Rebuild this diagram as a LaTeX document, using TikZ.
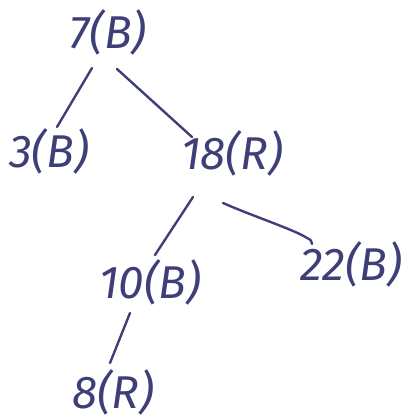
\documentclass[tikz,border=0pt]{standalone}
\usepackage{fontspec}
\setmainfont{Fira Sans}
\usetikzlibrary{calc}
\definecolor{ink}{HTML}{3E3F78}
\begin{document}
\begin{tikzpicture}[x=1pt,y=-1pt,
  key/.style={inner sep=0pt, text=ink, font=\fontsize{46}{48}\selectfont\itshape},
  edge/.style={draw=ink, line width=2.4pt, line cap=round, line join=round}]
\useasboundingbox (0,0) rectangle (406,420);
% tree nodes: key(colour)
\node[key] (n7)  at (108,32)  {7(B)};
\node[key] (n3)  at (49,151)  {3(B)};
\node[key] (n18) at (232,153) {18(R)};
\node[key] (n10) at (150,282) {10(B)};
\node[key] (n22) at (351,264) {22(B)};
\node[key] (n8)  at (113,392) {8(R)};
% links, each starting and ending a little off its two keys
\draw[edge] ($(n7)+(-16,36)$) -- ($(n3)+(8,-24)$);
\draw[edge] ($(n7)+(9,37)$) -- ($(n18)+(-40,-16)$);
\draw[edge] ($(n18)+(-39,44)$) -- ($(n10)+(5,-27)$);
\draw[edge] ($(n18)+(-9,50)$) .. controls ($(n18)+(23,64)$) and ($(n22)+(-56,-34)$)
  .. ($(n22)+(-44,-26)$) .. controls ($(n22)+(-40,-24)$) .. ($(n22)+(-39,-20)$);
\draw[edge] ($(n10)+(-20,31)$) -- ($(n8)+(-3,-29)$);
\end{tikzpicture}
\end{document}
